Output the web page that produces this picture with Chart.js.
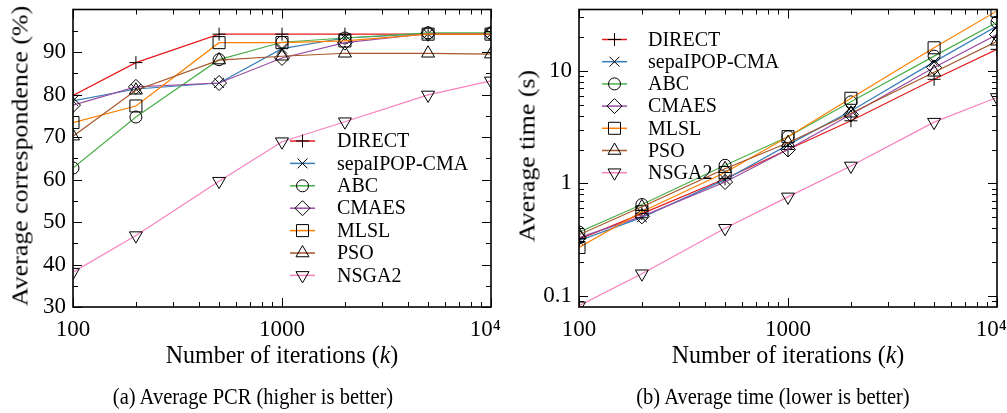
<!DOCTYPE html>
<html><head><meta charset="utf-8">
<script src="https://cdn.jsdelivr.net/npm/chart.js@4/dist/chart.umd.min.js"></script>
<style>
html,body{margin:0;padding:0;background:#fff;}
#wrap{position:relative;width:1007px;height:413px;overflow:hidden;font-family:"Liberation Serif",serif;color:#000;}
canvas{position:absolute;top:0;}
.t{position:absolute;white-space:nowrap;transform:translate(-50%,-50%) scaleY(1.08);}
.r{transform:translate(-50%,-50%) rotate(-90deg) scaleX(1.08);}
</style></head>
<body><div id="wrap">
<canvas id="c1" width="510" height="413" style="left:0"></canvas>
<canvas id="c2" width="507" height="413" style="left:500px"></canvas>
<div class="t r" style="left:20px;top:156px;font-size:24px">Average correspondence (%)</div>
<div class="t" style="left:282px;top:355px;font-size:24px">Number of iterations (<i>k</i>)</div>
<div class="t" style="left:253px;top:397px;font-size:20.5px">(a) Average PCR (higher is better)</div>
<div class="t r" style="left:527px;top:156px;font-size:24px">Average time (s)</div>
<div class="t" style="left:788px;top:355px;font-size:24px">Number of iterations (<i>k</i>)</div>
<div class="t" style="left:773px;top:397px;font-size:20.5px">(b) Average time (lower is better)</div>
</div>
<script>
// ---- data ----
const iterations = [100, 200, 500, 1000, 2000, 5000, 10000];
const methods = ['DIRECT', 'sepaIPOP-CMA', 'ABC', 'CMAES', 'MLSL', 'PSO', 'NSGA2'];

// Average PCR (%)
const pcrDIRECT = [79.8, 87.5, 94.2, 94.2, 94.2, 94.2, 94.2];
const pcrSepa   = [78.5, 81.3, 82.7, 90.8, 93.3, 94.3, 94.3];
const pcrABC    = [62.7, 74.7, 88.2, 92.3, 93.3, 94.5, 94.5];
const pcrCMAES  = [77.5, 81.8, 82.7, 88.6, 92.2, 94.3, 94.3];
const pcrMLSL   = [73.4, 77.3, 92.2, 92.2, 92.6, 94.2, 94.2];
const pcrPSO    = [70.2, 81.0, 88.1, 89.0, 89.7, 89.7, 89.5];
const pcrNSGA2  = [38.2, 46.8, 59.6, 68.9, 73.6, 79.9, 83.2];

// Average time (s)
const timeDIRECT = [0.32, 0.54, 1.10, 2.0, 3.6, 8.4, 15.5];
const timeSepa   = [0.31, 0.50, 1.08, 2.2, 4.4, 12.0, 25.0];
const timeABC    = [0.37, 0.65, 1.45, 2.6, 5.3, 13.5, 27.0];
const timeCMAES  = [0.33, 0.51, 1.03, 2.0, 4.1, 10.7, 21.0];
const timeMLSL   = [0.27, 0.56, 1.25, 2.6, 5.7, 16.0, 34.0];
const timePSO    = [0.35, 0.62, 1.35, 2.3, 4.2, 9.7, 18.3];
const timeNSGA2  = [0.082, 0.158, 0.40, 0.76, 1.43, 3.5, 5.8];

// ticks
const xTickValues = [100, 1000, 10000];
const xTickLabels = ['100', '1000', '10\u2074\u2002'];
const xMinorTicks = [200,300,400,500,600,700,800,900,2000,3000,4000,5000,6000,7000,8000,9000];
const pcrTickValues = [30, 40, 50, 60, 70, 80, 90];
const pcrMinorTicks = [35, 45, 55, 65, 75, 85, 95];
const timeTickValues = [0.1, 1, 10];
const timeTickLabels = ['0.1', '1', '10'];
const timeMinorTicks = [0.09,0.2,0.3,0.4,0.5,0.6,0.7,0.8,0.9,2,3,4,5,6,7,8,9,20,30];

// ---- styles ----
const colors = ['#e41a1c', '#377eb8', '#4daf4a', '#984ea3', '#ff7f00', '#a65628', '#f781bf'];
const pstyles = ['cross', 'crossRot', 'circle', 'rectRot', 'rect', 'triangle', 'triangle'];
const prot = [0, 0, 0, 0, 0, 0, 180];
const prad = [6.5, 7, 6, 7.5, 8.5, 7.5, 7.5];
const FONT = '"Liberation Serif", serif';

function makeDatasets(series) {
  return series.map((vals, i) => ({
    label: methods[i],
    data: iterations.map((x, j) => ({x: x, y: vals[j]})),
    borderColor: colors[i],
    borderWidth: 1.2,
    pointStyle: pstyles[i],
    pointRotation: prot[i],
    pointRadius: prad[i],
    pointBorderColor: '#000',
    pointBackgroundColor: 'rgba(0,0,0,0)',
    pointBorderWidth: 1,
    tension: 0,
    order: -i
  }));
}

const gpPlugin = {
  id: 'gp',
  afterDraw(chart, args, o) {
    const ctx = chart.ctx, a = chart.chartArea, xs = chart.scales.x, ys = chart.scales.y;
    ctx.save();
    ctx.strokeStyle = '#000';
    ctx.lineWidth = 1;
    const ln = (x1, y1, x2, y2) => { ctx.beginPath(); ctx.moveTo(x1, y1); ctx.lineTo(x2, y2); ctx.stroke(); };
    const doX = (vals, len) => vals.forEach(v => {
      const p = Math.round(xs.getPixelForValue(v)) + 0.5;
      ln(p, a.bottom, p, a.bottom - len); ln(p, a.top, p, a.top + len);
    });
    const doY = (vals, len) => vals.forEach(v => {
      const p = Math.round(ys.getPixelForValue(v)) + 0.5;
      ln(a.left, p, a.left + len, p); ln(a.right, p, a.right - len, p);
    });
    doX(o.xMajor, 9); doX(o.xMinor, 5);
    doY(o.yMajor, 9); doY(o.yMinor, 5);
    ctx.lineWidth = 1.6;
    ctx.strokeRect(a.left, a.top, a.right - a.left, a.bottom - a.top);
    // legend
    const L = o.legend;
    ctx.font = '20px ' + FONT;
    ctx.textBaseline = 'middle';
    ctx.textAlign = 'left';
    chart.data.datasets.forEach((ds, i) => {
      const y = L.y0 + i * L.dy;
      ctx.strokeStyle = ds.borderColor;
      ctx.lineWidth = 1.5;
      ln(L.x1, y, L.x2, y);
      ctx.strokeStyle = '#000';
      ctx.lineWidth = 1;
      ctx.fillStyle = 'rgba(0,0,0,0)';
      Chart.helpers.drawPoint(ctx, {pointStyle: ds.pointStyle, rotation: ds.pointRotation, radius: ds.pointRadius, borderWidth: 1}, (L.x1 + L.x2) / 2, y);
      ctx.fillStyle = '#000';
      ctx.fillText(ds.label, L.tx, y + 1);
    });
    ctx.restore();
  }
};

function fixY(w) {
  return function(s) { s.width = w; s.paddingTop = 0; s.paddingBottom = 0; };
}
function fixX(s) { s.height = 40; s.paddingLeft = 0; s.paddingRight = 0; }

function makeChart(id, datasets, yType, yMin, yMax, yTicks, yLabelFn, yW, padR, gp) {
  return new Chart(document.getElementById(id), {
    type: 'line',
    data: {datasets: datasets},
    options: {
      responsive: false, animation: false, events: [],
      layout: {padding: {left: 0, top: 5, right: padR, bottom: 413 - 307 - 40}},
      plugins: {legend: {display: false}, tooltip: {enabled: false}, gp: gp},
      scales: {
        x: {
          type: 'logarithmic', min: 100, max: 10000, bounds: 'data',
          grid: {display: false, drawTicks: false}, border: {display: false},
          afterBuildTicks: s => { s.ticks = xTickValues.map(v => ({value: v, major: true})); },
          afterFit: fixX,
          ticks: {padding: 9, maxRotation: 0, autoSkip: false, color: '#000', font: {family: FONT, size: 23},
            callback: v => xTickLabels[xTickValues.indexOf(v)] ?? ''}
        },
        y: {
          type: yType, min: yMin, max: yMax, bounds: 'data',
          grid: {display: false, drawTicks: false}, border: {display: false},
          afterBuildTicks: s => { s.ticks = yTicks.map(v => ({value: v, major: true})); },
          afterFit: fixY(yW),
          ticks: {padding: 7, autoSkip: false, color: '#000', font: {family: FONT, size: 23}, callback: yLabelFn}
        }
      }
    },
    plugins: [gpPlugin]
  });
}

makeChart('c1',
  makeDatasets([pcrDIRECT, pcrSepa, pcrABC, pcrCMAES, pcrMLSL, pcrPSO, pcrNSGA2]),
  'linear', 30, 100, pcrTickValues, v => String(v), 73, 510 - 491,
  {xMajor: xTickValues, xMinor: xMinorTicks, yMajor: pcrTickValues, yMinor: pcrMinorTicks,
   legend: {x1: 290, x2: 315, tx: 337, y0: 141, dy: 22.4}});

makeChart('c2',
  makeDatasets([timeDIRECT, timeSepa, timeABC, timeCMAES, timeMLSL, timePSO, timeNSGA2]),
  'logarithmic', 0.08, 35, timeTickValues, v => timeTickLabels[timeTickValues.indexOf(v)] ?? '', 79, 10,
  {xMajor: xTickValues, xMinor: xMinorTicks, yMajor: timeTickValues, yMinor: timeMinorTicks,
   legend: {x1: 102, x2: 127, tx: 148, y0: 39.5, dy: 22.2}});
</script>
</body></html>
